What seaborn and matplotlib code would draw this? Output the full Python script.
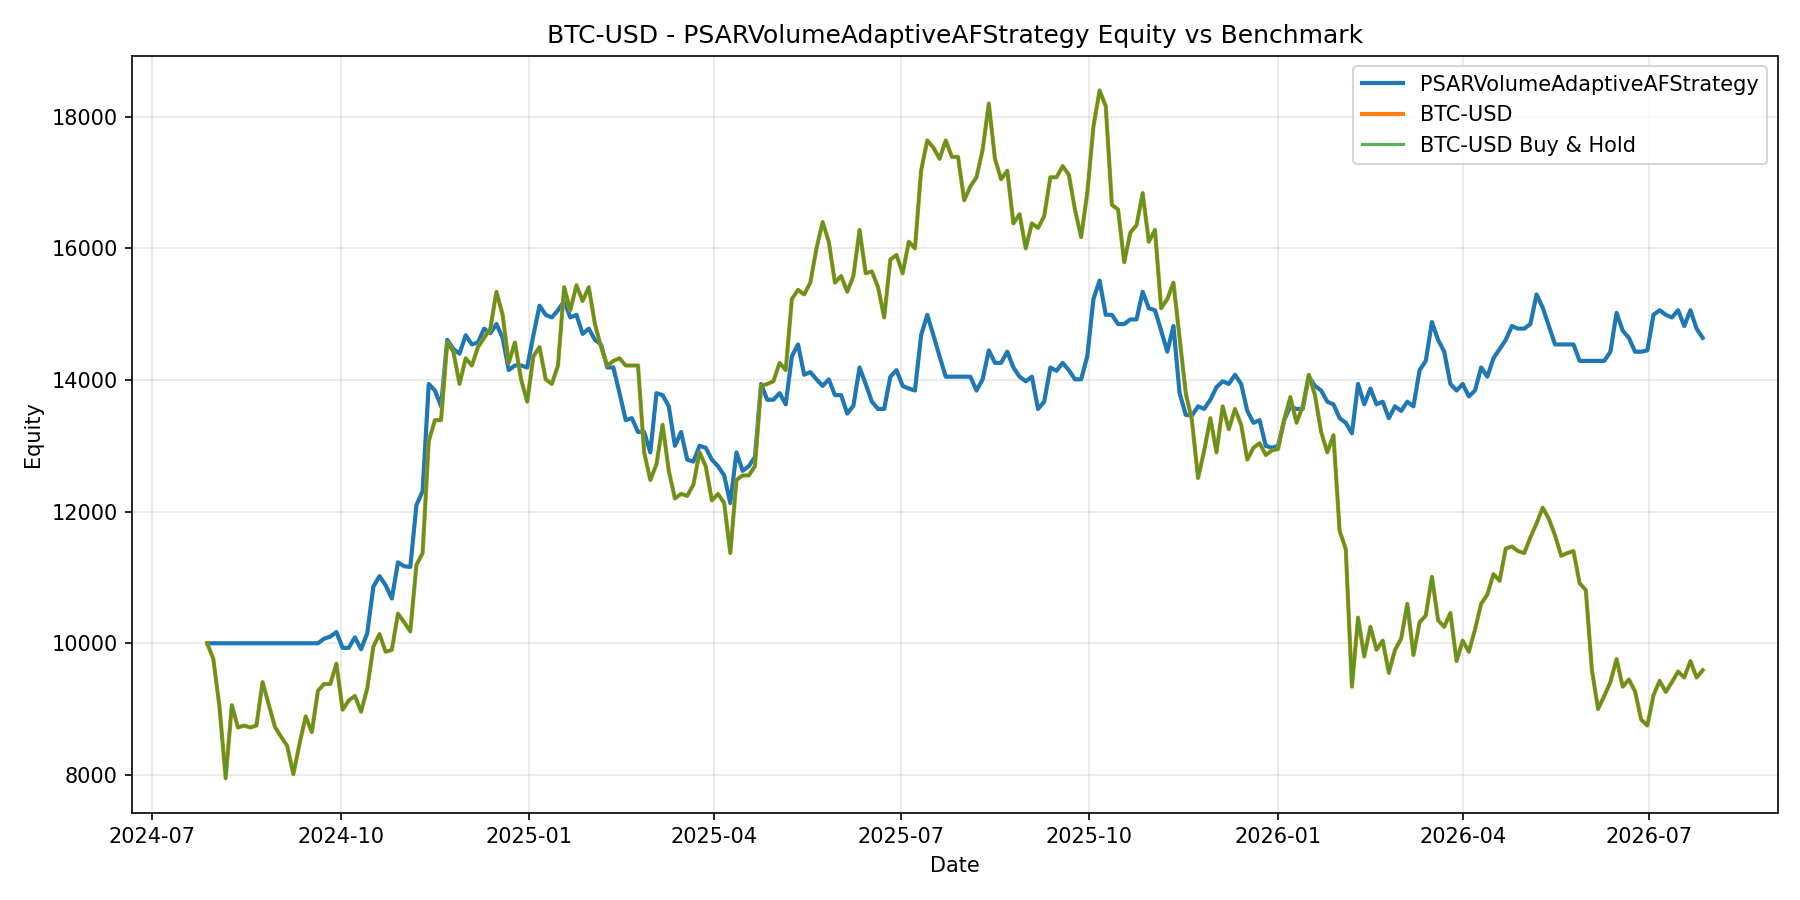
import pandas as pd
import numpy as np
import seaborn as sns
import matplotlib.pyplot as plt

# Equity curves, one value every 3 days starting 2024-07-28
start_date = "2024-07-28"
step = "3D"

strategy_equity = [
    10000, 10000, 10000, 10000, 10000, 10000, 10000, 10000, 10000, 10000,
    10000, 10000, 10000, 10000, 10000, 10000, 10000, 10000, 10000, 10070,
    10100, 10170, 9930, 9930, 10090, 9910, 10150, 10860, 11020, 10880,
    10680, 11230, 11170, 11160, 12100, 12310, 13940, 13840, 13600, 14610,
    14470, 14400, 14680, 14540, 14570, 14780, 14710, 14850, 14640, 14150,
    14220, 14220, 14190, 14680, 15130, 14990, 14950, 15060, 15200, 14950,
    14990, 14700, 14780, 14610, 14540, 14190, 14190, 13800, 13390, 13420,
    13210, 13210, 12900, 13800, 13770, 13600, 13000, 13210, 12790, 12760,
    13000, 12970, 12790, 12690, 12550, 12130, 12900, 12620, 12690, 12830,
    13940, 13700, 13700, 13800, 13630, 14360, 14540, 14080, 14120, 14010,
    13910, 14010, 13770, 13770, 13490, 13610, 14190, 13940, 13670, 13560,
    13560, 14050, 14150, 13910, 13870, 13840, 14680, 14990, 14680, 14360,
    14050, 14050, 14050, 14050, 14050, 13840, 14010, 14450, 14260, 14260,
    14430, 14190, 14050, 13980, 14050, 13560, 13670, 14190, 14140, 14260,
    14150, 14010, 14010, 14360, 15230, 15510, 14990, 14990, 14850, 14850,
    14920, 14920, 15340, 15090, 15060, 14750, 14430, 14820, 13800, 13470,
    13460, 13600, 13560, 13700, 13890, 13980, 13940, 14080, 13940, 13530,
    13350, 13390, 13000, 12970, 13000, 13390, 13600, 13560, 13560, 14050,
    13910, 13840, 13670, 13630, 13420, 13350, 13190, 13940, 13630, 13870,
    13630, 13670, 13420, 13600, 13530, 13670, 13600, 14150, 14290, 14880,
    14610, 14430, 13940, 13840, 13940, 13750, 13840, 14190, 14050, 14330,
    14470, 14610, 14820, 14780, 14780, 14850, 15300, 15100, 14820, 14540,
    14540, 14540, 14540, 14290, 14290, 14290, 14290, 14290, 14430, 15020,
    14750, 14640, 14430, 14430, 14450, 14990, 15060, 14990, 14950, 15060,
    14820, 15060, 14780, 14640,
]

btc_equity = [
    10000, 9760, 9030, 7950, 9060, 8720, 8750, 8720, 8750, 9410,
    9070, 8730, 8580, 8440, 8010, 8470, 8890, 8650, 9280, 9380,
    9380, 9690, 8990, 9130, 9200, 8960, 9310, 9950, 10140, 9870,
    9900, 10450, 10320, 10180, 11190, 11370, 13070, 13390, 13390, 14570,
    14430, 13940, 14330, 14220, 14500, 14640, 14780, 15340, 14990, 14260,
    14570, 14010, 13670, 14360, 14500, 14010, 13940, 14220, 15410, 15060,
    15440, 15200, 15410, 14850, 14500, 14220, 14290, 14330, 14220, 14220,
    14220, 12900, 12480, 12720, 13320, 12620, 12200, 12270, 12240, 12410,
    12900, 12690, 12170, 12270, 12130, 11370, 12480, 12550, 12550, 12690,
    13910, 13940, 13980, 14260, 14150, 15230, 15370, 15300, 15480, 16000,
    16400, 16100, 15480, 15580, 15340, 15580, 16280, 15620, 15650, 15410,
    14950, 15830, 15900, 15620, 16100, 16000, 17180, 17640, 17530, 17360,
    17640, 17390, 17390, 16730, 16940, 17080, 17500, 18200, 17360, 17050,
    17180, 16380, 16520, 16000, 16380, 16310, 16490, 17080, 17080, 17250,
    17120, 16590, 16170, 16840, 17850, 18400, 18160, 16660, 16590, 15790,
    16240, 16350, 16840, 16100, 16280, 15090, 15230, 15480, 14640, 13800,
    13390, 12510, 12930, 13420, 12900, 13600, 13250, 13560, 13320, 12790,
    12970, 13040, 12860, 12930, 12950, 13400, 13740, 13350, 13600, 14080,
    13770, 13210, 12900, 13160, 11710, 11430, 9340, 10390, 9800, 10250,
    9900, 10040, 9550, 9900, 10070, 10600, 9820, 10320, 10420, 11010,
    10350, 10250, 10460, 9730, 10040, 9870, 10210, 10600, 10740, 11050,
    10950, 11440, 11470, 11400, 11370, 11610, 11820, 12060, 11890, 11640,
    11330, 11370, 11400, 10910, 10810, 9590, 9000, 9200, 9410, 9760,
    9340, 9450, 9270, 8840, 8750, 9210, 9430, 9260, 9410, 9570,
    9480, 9730, 9480, 9590,
]

strategy_name = "PSARVolumeAdaptiveAFStrategy"
symbol = "BTC-USD"

dates = pd.date_range(start_date, periods=len(strategy_equity), freq=step)
df = pd.DataFrame({"Date": dates, "strategy": strategy_equity, "benchmark": btc_equity})

fig, ax = plt.subplots(figsize=(12, 6))

sns.lineplot(data=df, x="Date", y="strategy", ax=ax, color="tab:blue", linewidth=2, label=strategy_name)
sns.lineplot(data=df, x="Date", y="benchmark", ax=ax, color="tab:orange", linewidth=2, label=symbol)
# buy & hold is the same curve drawn on top
sns.lineplot(data=df, x="Date", y="benchmark", ax=ax, color="tab:green", linewidth=1.5, alpha=0.8,
             label=f"{symbol} Buy & Hold")

ax.set_title(f"{symbol} - {strategy_name} Equity vs Benchmark")
ax.set_xlabel("Date")
ax.set_ylabel("Equity")
ax.grid(True, alpha=0.3)
ax.legend(loc="upper right")

plt.tight_layout()
plt.savefig("out.png", dpi=150)
plt.close()
